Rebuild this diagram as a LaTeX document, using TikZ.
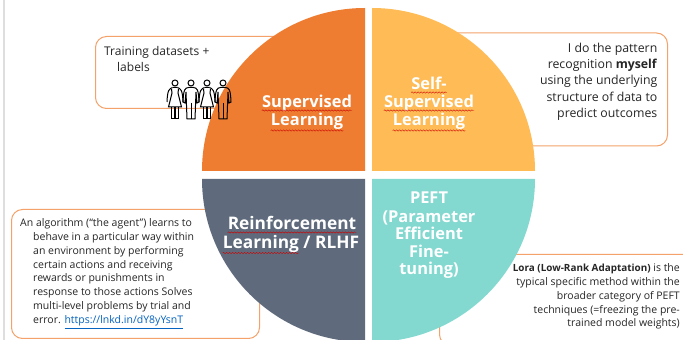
\documentclass[tikz,border=0pt]{standalone}
\usepackage{fontspec}
\setmainfont{Open Sans}
\usepackage{xcolor}
\usetikzlibrary{decorations.pathmorphing}
\definecolor{supcolor}{HTML}{EE7D31}
\definecolor{selfcolor}{HTML}{FFBB55}
\definecolor{rlcolor}{HTML}{5F6B7C}
\definecolor{peftcolor}{HTML}{83D9D0}
\definecolor{notecolor}{HTML}{F4A26A}
\definecolor{notetext}{HTML}{262626}
\definecolor{linkcolor}{HTML}{0563C1}
\begin{document}
\begin{tikzpicture}[x=1pt, y=1pt]
	% Define styles for boxes and labels
	\tikzset{
		notebox/.style={
			rectangle,
			draw=notecolor,
			line width=1pt,
			rounded corners=11pt,
			anchor=north west,
			inner sep=0pt
		},
		notelabel/.style={
			inner sep=0pt,
			text=notetext,
			font=\fontsize{10.5}{13.95}\selectfont
		},
		heading/.style={
			inner sep=0pt,
			anchor=base,
			text=white,
			font=\fontsize{16.4}{18}\selectfont\bfseries
		},
		bigheading/.style={
			heading,
			font=\fontsize{17.3}{19}\selectfont\bfseries
		},
		squig/.style={
			draw=red!80!black,
			line width=0.4pt,
			decorate,
			decoration={snake, amplitude=0.7pt, segment length=3pt}
		},
		womanicon/.pic={
			\draw[line width=1pt] (0,0) circle (3);
			\draw[line width=1pt] (-2.5,-4.5) .. controls (-6,-6) and (-7.5,-7) .. (-8,-19) (2.5,-4.5) .. controls (6,-6) and (7.5,-7) .. (8,-19);
			\draw[line width=1pt] (-2.5,-4.5) -- (2.5,-4.5) (-3.5,-6) -- (-3,-10) -- (-6.5,-24) -- (6.5,-24) -- (3,-10) -- (3.5,-6);
			\draw[line width=1pt] (-3.5,-24) -- (-3.5,-36) -- (-0.8,-36) -- (-0.8,-24) (0.8,-24) -- (0.8,-36) -- (3.5,-36) -- (3.5,-24);
		},
		manicon/.pic={
			\draw[line width=1pt] (0,0) circle (3);
			\draw[line width=1pt] (-2.5,-4.5) -- (2.5,-4.5) (-2.5,-4.5) .. controls (-6,-5) and (-7.5,-6) .. (-8,-19) -- (-6,-20) -- (-5,-9) -- (-4,-36) -- (4,-36) -- (5,-9) -- (6,-20) -- (8,-19) .. controls (7.5,-6) and (6,-5) .. (2.5,-4.5);
			\draw[line width=1pt] (0,-20) -- (0,-36);
		}
	}
	\useasboundingbox (0,0) rectangle (683,340);
	\clip (0,0) rectangle (683,340);
	\fill[white] (0,0) rectangle (683,340);
	\fill[black!13] (3,0) rectangle (5,340);

	% Boxes behind the circle
	\node[notebox, minimum width=190pt, minimum height=72pt] (trainBox) at (95,304) {};
	\node[notebox, minimum width=237pt, minimum height=113pt] (selfBox) at (430,307.5) {};
	\node[notebox, minimum width=248pt, minimum height=129pt] (agentBox) at (11,131) {};
	\node[notebox, minimum width=255pt, minimum height=91pt] (loraBox) at (439,86) {};

	% Quarter circles
	\fill[supcolor] (365,169) -- (202,169) arc[start angle=180, end angle=90, radius=163] -- cycle;
	\fill[selfcolor] (372,169) -- (372,332) arc[start angle=90, end angle=0, radius=163] -- cycle;
	\fill[rlcolor] (365,161) -- (365,-2) arc[start angle=270, end angle=180, radius=163] -- cycle;
	\fill[peftcolor] (372,161) -- (535,161) arc[start angle=0, end angle=-90, radius=163] -- cycle;

	% People
	\pic at (175,257) {womanicon};
	\pic at (191,257) {manicon};
	\pic at (207,257) {womanicon};
	\pic at (223,257) {manicon};

	% Headings
	\node[heading] (supA) at (307,232) {Supervised};
	\node[heading] (supB) at (307,214) {Learning};
	\node[heading] (selfA) at (429,250) {Self-};
	\node[heading] (selfB) at (429,232) {Supervised};
	\node[heading] (selfC) at (429,214) {Learning};
	\node[bigheading] (rlA) at (292,110) {Reinforcement};
	\node[bigheading] (rlB) at (291,91.5) {Learning / RLHF};
	\node[heading] (peftA) at (429,136) {PEFT};
	\node[heading] (peftB) at (429,117) {(Parameter};
	\node[heading] (peftC) at (429,100) {Efficient};
	\node[heading] (peftD) at (429,82) {Fine-};
	\node[heading] (peftE) at (429,65) {tuning)};

	% Spell check lines
	\draw[squig] ([yshift=-2.5pt]supA.base west) -- ([yshift=-2.5pt]supA.base east);
	\draw[squig] ([yshift=-4.5pt]supB.base west) -- ([yshift=-4.5pt]supB.base east);
	\draw[squig] ([yshift=-2.5pt]selfA.base west) -- ([yshift=-2.5pt]selfA.base east);
	\draw[squig] ([yshift=-2.5pt]selfB.base west) -- ([yshift=-2.5pt]selfB.base east);
	\draw[squig] ([yshift=-4.5pt]selfC.base west) -- ([yshift=-4.5pt]selfC.base east);
	\draw[squig] ([yshift=-2.5pt]rlA.base west) -- ([yshift=-2.5pt]rlA.base east);
	\draw[squig] ([yshift=-4.5pt]rlB.base west) -- ([yshift=-4.5pt,xshift=-60pt]rlB.base east);

	% Notes
	\node[notelabel, anchor=north west, align=left, font=\fontsize{12}{15.5}\selectfont] (trainNote) at (104,293.5) {Training datasets +\\\hspace*{13pt}labels};
	\node[notelabel, anchor=north east, align=right, font=\fontsize{12.3}{16.2}\selectfont] (selfNote) at (657.5,297) {I do the pattern\\recognition \textbf{myself}\\using the underlying\\structure of data to\\predict outcomes};
	\node[notelabel, anchor=north west, align=left] (agentNote) at (20,122) {An algorithm (“the agent”) learns to\\\hspace*{13pt}behave in a particular way within\\\hspace*{13pt}an environment by performing\\\hspace*{13pt}certain actions and receiving\\\hspace*{13pt}rewards or punishments in\\\hspace*{13pt}response to those actions Solves\\\hspace*{13pt}multi-level problems by trial and\\\hspace*{13pt}error. \textcolor{linkcolor}{\underline{https://lnkd.in/dY8yYsnT}}};
	\node[notelabel, anchor=north east, align=right] (loraNote) at (680,77) {{\fontsize{9.9}{13.95}\selectfont\textbf{Lora (Low-Rank Adaptation)}} is the\\typical specific method within the\\broader category of PEFT\\techniques (=freezing the pre-\\trained model weights)};
\end{tikzpicture}
\end{document}
